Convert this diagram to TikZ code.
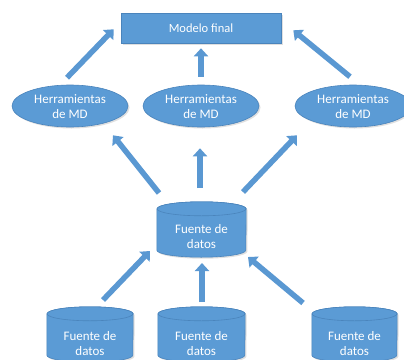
\documentclass[tikz,border=0pt]{standalone}
\usepackage{fontspec}
\setmainfont{Carlito}
\usetikzlibrary{arrows.meta,shadows,shapes.geometric}
\definecolor{ofill}{HTML}{5B9BD5}
\definecolor{oline}{HTML}{4A84BC}
\definecolor{oarrow}{HTML}{5A98D2}
\tikzset{
  shade/.style={drop shadow={opacity=0.25,shadow xshift=1.5pt,shadow yshift=-1.5pt}},
  boxst/.style={draw=oline,line width=0.6pt,fill=ofill,shade,minimum width=160pt,minimum height=30pt,inner sep=0pt},
  ellst/.style={ellipse,draw=oline,line width=0.6pt,fill=ofill,shade,minimum width=116pt,minimum height=42pt,inner sep=0pt},
  cylbox/.style={minimum height=55pt,inner sep=0pt},
  cylpath/.style={draw=oline,line width=0.6pt,fill=ofill},
  txt/.style={text=white,font=\fontsize{13}{15}\selectfont,align=center},
  blk/.style={draw=oarrow,line width=5.5pt,-{Triangle[width=14pt,length=8pt]},color=oarrow}
}
% #1 node name, #2 half width
\newcommand\mycyl[2]{%
  \draw[cylpath,shade] ([yshift=-7pt]#1.north west) -- ([yshift=7pt]#1.south west)
     arc[start angle=180,end angle=360,x radius=#2pt,y radius=7pt]
     -- ([yshift=-7pt]#1.north east)
     arc[start angle=0,end angle=180,x radius=#2pt,y radius=7pt] -- cycle;
  \draw[cylpath] ([yshift=-7pt]#1.north) ellipse[x radius=#2pt,y radius=7pt];
}
\begin{document}
\begin{tikzpicture}[x=1pt,y=-1pt]
\useasboundingbox (0,0) rectangle (404,359);
\clip (0,0) rectangle (404,359);
\fill[white] (0,0) rectangle (404,359);
% final model
\node[boxst] (m) at (201,28) {};
\node[txt,font=\fontsize{12.5}{15}\selectfont] (mt) at (201,28) {Modelo final};
% tools
\node[ellst] (h1) at (70,106) {};
\node[ellst] (h2) at (201,106) {};
\node[ellst] (h3) at (353,106) {};
\node[txt] (h1t) at (70,107) {Herramientas\\de MD};
\node[txt] (h2t) at (201,107) {Herramientas\\de MD};
\node[txt] (h3t) at (353,107) {Herramientas\\de MD};
% data stores
\node[cylbox,minimum width=89pt] (c0) at (201.5,229.5) {};
\node[cylbox,minimum width=86pt] (c1) at (90,334.5) {};
\node[cylbox,minimum width=87pt] (c2) at (201.5,334.5) {};
\node[cylbox,minimum width=85pt] (c3) at (354.5,334.5) {};
\mycyl{c0}{44.5}
\mycyl{c1}{43}
\mycyl{c2}{43.5}
\mycyl{c3}{42.5}
\node[txt] (c0t) at (201.5,237) {Fuente de\\datos};
\node[txt] (c1t) at (90,344) {Fuente de\\datos};
\node[txt] (c2t) at (201.5,344) {Fuente de\\datos};
\node[txt] (c3t) at (354.5,344) {Fuente de\\datos};
% arrows to final model
\draw[blk] ([shift={(-3,-7)}]h1.north) -- ([shift={(-7,-14)}]m.south west);
\draw[blk] ([shift={(0,-8)}]h2.north) -- ([shift={(0,5)}]m.south);
\draw[blk] ([shift={(-3,-8)}]h3.north) -- ([shift={(12,-13)}]m.south east);
% arrows from central store to tools
\draw[blk] ([shift={(-42.5,-36.5)}]c0.center) -- ([shift={(43,8)}]h1.south);
\draw[blk] ([shift={(-1.5,-41.5)}]c0.center) -- ([shift={(-1,21)}]h2.south);
\draw[blk] ([shift={(41.5,-37.5)}]c0.center) -- ([shift={(-56,8)}]h3.south);
% arrows from sources to central store
\draw[blk] ([shift={(13,-34.5)}]c1.center) -- ([shift={(-51.5,21.5)}]c0.center);
\draw[blk] ([shift={(0.5,-32.5)}]c2.center) -- ([shift={(0.5,33.5)}]c0.center);
\draw[blk] ([shift={(-51.5,-31.5)}]c3.center) -- ([shift={(46.5,27.5)}]c0.center);
\end{tikzpicture}
\end{document}
